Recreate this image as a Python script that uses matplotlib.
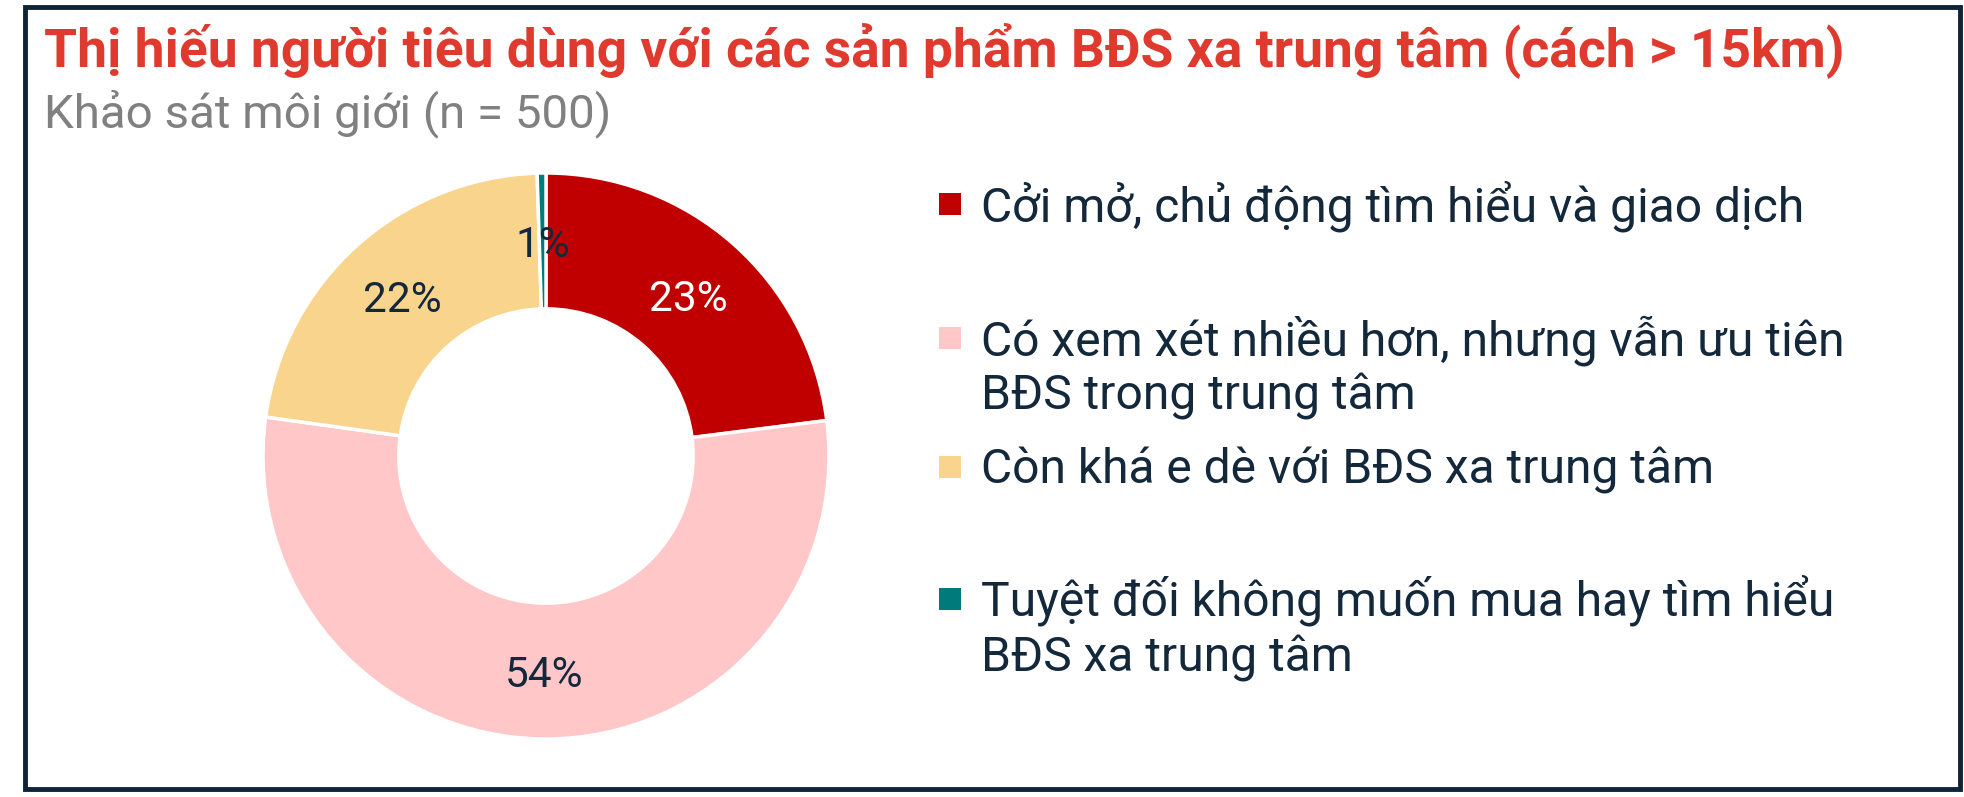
import matplotlib.pyplot as plt
from matplotlib.patches import Rectangle

plt.rcParams['font.family'] = ['Roboto', 'DejaVu Sans']

# Data
categories = ['Cởi mở, chủ động tìm hiểu và giao dịch',
              'Có xem xét nhiều hơn, nhưng vẫn ưu tiên\nBĐS trong trung tâm',
              'Còn khá e dè với BĐS xa trung tâm',
              'Tuyệt đối không muốn mua hay tìm hiểu\nBĐS xa trung tâm']
values = [23.0, 54.2, 22.3, 0.5]
pct_labels = ['23%', '54%', '22%', '1%']
colors = ['#c00000', '#ffc7c7', '#f9d48d', '#007a7a']
label_colors = ['white', '#14283c', '#14283c', '#14283c']

W, H = 1964, 797
fig = plt.figure(figsize=(W / 100, H / 100), dpi=100)

# Border
fig.patches.append(Rectangle((25 / W, 8 / H), 1935 / W, 782 / H, transform=fig.transFigure,
                             fill=False, edgecolor='#0e2439', linewidth=3.5))

# Title and subtitle
fig.text(44 / W, 1 - 66 / H, 'Thị hiếu người tiêu dùng với các sản phẩm BĐS xa trung tâm (cách > 15km)',
         fontsize=38.4, fontweight='bold', color='#e03a2f', va='baseline')
fig.text(44 / W, 1 - 127 / H, 'Khảo sát môi giới (n = 500)',
         fontsize=34.2, color='#808080', va='baseline')

# Donut
cx, cy, r = 546, 456, 283
ax = fig.add_axes([(cx - r) / W, (H - cy - r) / H, 2 * r / W, 2 * r / H])
wedges, texts = ax.pie(values, colors=colors, startangle=90, counterclock=False,
                       wedgeprops=dict(width=0.48, edgecolor='white', linewidth=2.5),
                       labels=pct_labels, labeldistance=0.76,
                       textprops=dict(fontsize=30.5, ha='center', va='center_baseline'))
for t, c in zip(texts, label_colors):
    t.set_color(c)
ax.set_xlim(-1, 1)
ax.set_ylim(-1, 1)
ax.set_aspect('equal')

# Legend (manual layout, one text per line)
leg_y = [204, 338, 467, 599]
line_gap = 55
for y, lab, col in zip(leg_y, categories, colors):
    fig.patches.append(Rectangle((939 / W, 1 - (y + 11) / H), 22 / W, 22 / H,
                                 transform=fig.transFigure, facecolor=col, edgecolor='none'))
    for i, line in enumerate(lab.split('\n')):
        fig.text(981 / W, 1 - (y + 17 + i * line_gap) / H, line, fontsize=34.6,
                 color='#14283c', va='baseline')

fig.savefig('out.png', dpi=100)
